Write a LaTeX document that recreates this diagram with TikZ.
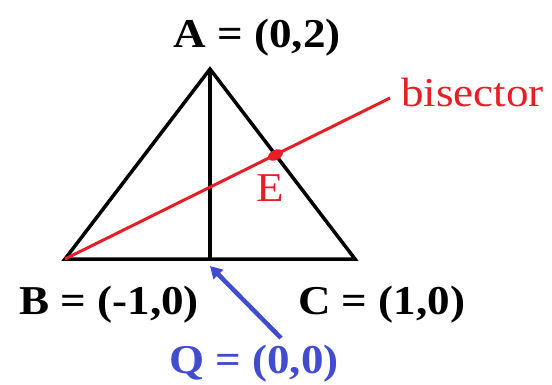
\documentclass[tikz,border=0pt]{standalone}
\usepackage{fontspec}
\setmainfont[FakeStretch=1.1]{Liberation Serif}
\usepackage{tikz}
\usetikzlibrary{arrows.meta}
\definecolor{bisred}{RGB}{232,30,38}
\definecolor{qblue}{RGB}{66,76,206}
\tikzset{
  ptlabel/.style={font=\bfseries\fontsize{41}{47}\selectfont, inner sep=0pt},
  redlabel/.style={bisred, font=\fontsize{41}{47}\selectfont, inner sep=0pt},
  side/.style={line width=3.5pt, line join=miter},
}

\begin{document}
\begin{tikzpicture}[x=1pt,y=-1pt]
    \useasboundingbox (0,0) rectangle (552,385);
    % triangle corners
    \coordinate (A) at (210,69);
    \coordinate (B) at (65,259);
    \coordinate (C) at (355,259);
    \coordinate (Q) at (210,259);
    \coordinate (E) at (275.5,155);
    \coordinate (bisend) at (390,98);
    \coordinate (qtail) at (281,338);
    \coordinate (qtip) at (210,266);
    \draw[side] (A) -- (B) -- (C) -- cycle;
    \draw[side] (A) -- (Q);
    \draw[bisred, line width=3pt] (B) -- (bisend);
    \fill[bisred, rotate around={26.4:(E)}] (E) ellipse [x radius=8pt, y radius=5pt];
    % labels
    \node[ptlabel, anchor=base] (Albl) at (257,48) {A = (0,2)};
    \node[ptlabel, anchor=base] (Blbl) at (109,314) {B = (-1,0)};
    \node[ptlabel, anchor=base west] (Clbl) at (298,314) {C = (1,0)};
    \node[ptlabel, qblue, anchor=base] (Qlbl) at (254,373) {Q = (0,0)};
    \node[redlabel, anchor=base] (Elbl) at (270,202) {E};
    \node[redlabel, anchor=base west] (bislbl) at (401,107) {bisector};
    \draw[qblue, line width=4.5pt, -{Triangle[length=12pt,width=13pt]}] (qtail) -- (qtip);
\end{tikzpicture}
\end{document}
